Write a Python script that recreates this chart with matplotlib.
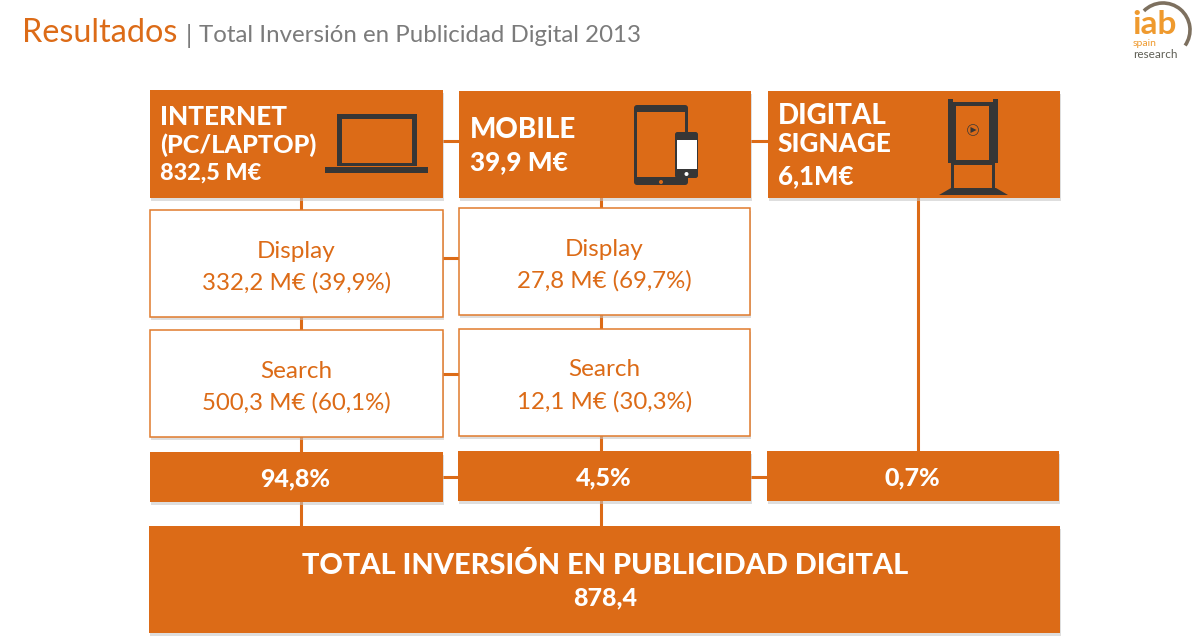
import matplotlib
matplotlib.use("Agg")
import matplotlib.pyplot as plt
from matplotlib.patches import Rectangle, Polygon, Circle, Arc, FancyBboxPatch

ORANGE = "#dc6b17"
DARK = "#363636"


def draw_box(ax, x0, y0, x1, y1, filled=True):
    """
    Box with a soft shadow under it
    """
    ax.add_patch(Rectangle((x0 + 1, y0 + 3), x1 - x0, y1 - y0, color="#c4c4c4", alpha=0.55, lw=0, zorder=2))
    if filled:
        ax.add_patch(Rectangle((x0, y0), x1 - x0, y1 - y0, color=ORANGE, lw=0, zorder=3))
    else:
        ax.add_patch(Rectangle((x0, y0), x1 - x0, y1 - y0, facecolor="white", edgecolor="#e07a2c", lw=1.1, zorder=3))


def draw_icons(ax):
    """
    Laptop, tablet + phone and the signage totem
    """
    # laptop
    ax.add_patch(Rectangle((337, 114), 80, 52, color=DARK, lw=0, zorder=4))
    ax.add_patch(Rectangle((342, 119), 70, 44, color=ORANGE, lw=0, zorder=4))
    ax.add_patch(Rectangle((325, 167), 103, 6, color=DARK, lw=0, zorder=4))

    # tablet
    ax.add_patch(FancyBboxPatch((634, 105), 54, 80, boxstyle="round,pad=0,rounding_size=3", color=DARK, lw=0, zorder=4))
    ax.add_patch(Rectangle((637, 112), 48, 65, color=ORANGE, lw=0, zorder=4))
    ax.add_patch(Circle((661, 182), 2, color=ORANGE, lw=0, zorder=5))
    # phone
    ax.add_patch(FancyBboxPatch((675, 132), 23, 46, boxstyle="round,pad=0,rounding_size=2.5", color=DARK, lw=0, zorder=5))
    ax.add_patch(Rectangle((677, 140), 20, 29, color="white", lw=0, zorder=6))
    ax.add_patch(Circle((686.5, 174), 2, color="white", lw=0, zorder=6))

    # totem
    ax.add_patch(Rectangle((948, 99), 5, 10, color=DARK, lw=0, zorder=4))
    ax.add_patch(Rectangle((993, 99), 5, 10, color=DARK, lw=0, zorder=4))
    ax.add_patch(Rectangle((948, 102), 50, 61, color=DARK, lw=0, zorder=4))
    ax.add_patch(Rectangle((956, 106), 33, 54, color=ORANGE, lw=0, zorder=4))
    ax.add_patch(Rectangle((951, 163), 44, 27, color=DARK, lw=0, zorder=4))
    ax.add_patch(Rectangle((954, 165), 38, 23, color=ORANGE, lw=0, zorder=4))
    ax.add_patch(Polygon([(939, 195), (951, 188), (996, 188), (1008, 195)], color=DARK, lw=0, zorder=4))
    ax.add_patch(Circle((973, 130), 5.5, fill=False, edgecolor=DARK, lw=0.5, zorder=4))
    ax.add_patch(Polygon([(970.5, 127), (970.5, 133), (976.5, 130)], color=DARK, lw=0, zorder=4))


def draw_logo(ax):
    ax.add_patch(Arc((1163, 30), 54, 54, theta1=-135, theta2=35, color="#7d705f", lw=2.6, zorder=4))
    ax.text(1132, 24, "iab", fontsize=24, family="Lato", weight="bold", color="#ef9a2e", va="center", ha="left", zorder=5)
    ax.text(1133, 44, "spain", fontsize=7.5, family="Lato", color="#ef9a2e", va="center", ha="left", zorder=5)
    ax.text(1133, 54, "research", fontsize=8.5, family="Lato", color="#5f5f55", va="center", ha="left", zorder=5)


def plot_results(top_boxes, detail_boxes, share_boxes, total):
    """
    Draw the digital advertising breakdown
    """
    plt.figure(figsize=(12, 6.42), dpi=100)
    ax = plt.axes([0, 0, 1, 1])
    plt.xlim(0, 1200)
    plt.ylim(642, 0)
    plt.axis("off")

    # title
    plt.text(22, 33, "Resultados", fontsize=23.3, family="Lato", color=ORANGE, va="center")
    plt.text(186, 36, "|", fontsize=18, family="Lato", color="#7b7b7b", va="center")
    plt.text(199, 35, "Total Inversión en Publicidad Digital 2013", fontsize=17.3, family="Lato", color="#7b7b7b", va="center")

    # connectors
    for x, y0, y1 in [(301, 198, 526), (601, 198, 526), (918, 198, 451)]:
        plt.plot([x, x], [y0, y1], color=ORANGE, lw=2.2, zorder=1)
    for x0, x1, y in [(443, 768, 141), (443, 459, 258), (443, 459, 374), (443, 767, 477)]:
        plt.plot([x0, x1], [y, y], color=ORANGE, lw=2.2, zorder=1)

    for box in top_boxes:
        draw_box(ax, *box["pos"])
        for line, y, size in box["lines"]:
            plt.text(box["text_x"], y, line, fontsize=size, family="Lato", weight="black", color="white",
                     va="center", ha="left", zorder=5)

    for box in detail_boxes:
        draw_box(ax, *box["pos"], filled=False)
        x_mid = (box["pos"][0] + box["pos"][2]) / 2
        plt.text(x_mid, box["pos"][1] + 41, box["name"], fontsize=17.5, family="Lato", color=ORANGE, va="center", ha="center", zorder=5)
        plt.text(x_mid, box["pos"][1] + 73, box["value"], fontsize=17.3, family="Lato", color=ORANGE, va="center", ha="center", zorder=5)

    for box in share_boxes:
        draw_box(ax, *box["pos"])
        x_mid = (box["pos"][0] + box["pos"][2]) / 2 - 1
        plt.text(x_mid, box["pos"][1] + 27, box["share"], fontsize=18, family="Lato", weight="black", color="white", va="center", ha="center", zorder=5)

    # total
    draw_box(ax, 149, 526, 1060, 633)
    plt.text(605, 565, "TOTAL INVERSIÓN EN PUBLICIDAD DIGITAL", fontsize=20.8, family="Lato", weight="black", color="white", va="center", ha="center", zorder=5)
    plt.text(605, 598, total, fontsize=18, family="Lato", weight="black", color="white", va="center", ha="center", zorder=5)

    draw_icons(ax)
    draw_logo(ax)

    plt.savefig("out.png", dpi=100)
    plt.close()


# TEST
if __name__ == "__main__":
    top_boxes = [
        {"pos": (150, 90, 443, 198), "text_x": 160,
         "lines": [("INTERNET", 117, 18.8), ("(PC/LAPTOP)", 145, 18.2), ("832,5 M€", 173, 16.8)]},
        {"pos": (459, 91, 751, 198), "text_x": 470,
         "lines": [("MOBILE", 130, 20), ("39,9 M€", 162, 18.8)]},
        {"pos": (768, 91, 1060, 198), "text_x": 778,
         "lines": [("DIGITAL", 116, 20), ("SIGNAGE", 144, 18.8), ("6,1M€", 176, 18.5)]},
    ]
    detail_boxes = [
        {"pos": (150, 210, 443, 317), "name": "Display", "value": "332,2 M€ (39,9%)"},
        {"pos": (459, 208, 750, 315), "name": "Display", "value": "27,8 M€ (69,7%)"},
        {"pos": (150, 330, 443, 437), "name": "Search", "value": "500,3 M€ (60,1%)"},
        {"pos": (459, 329, 750, 436), "name": "Search", "value": "12,1 M€ (30,3%)"},
    ]
    share_boxes = [
        {"pos": (150, 452, 443, 502), "share": "94,8%"},
        {"pos": (458, 451, 751, 501), "share": "4,5%"},
        {"pos": (767, 451, 1059, 501), "share": "0,7%"},
    ]

    plot_results(top_boxes, detail_boxes, share_boxes, "878,4")
